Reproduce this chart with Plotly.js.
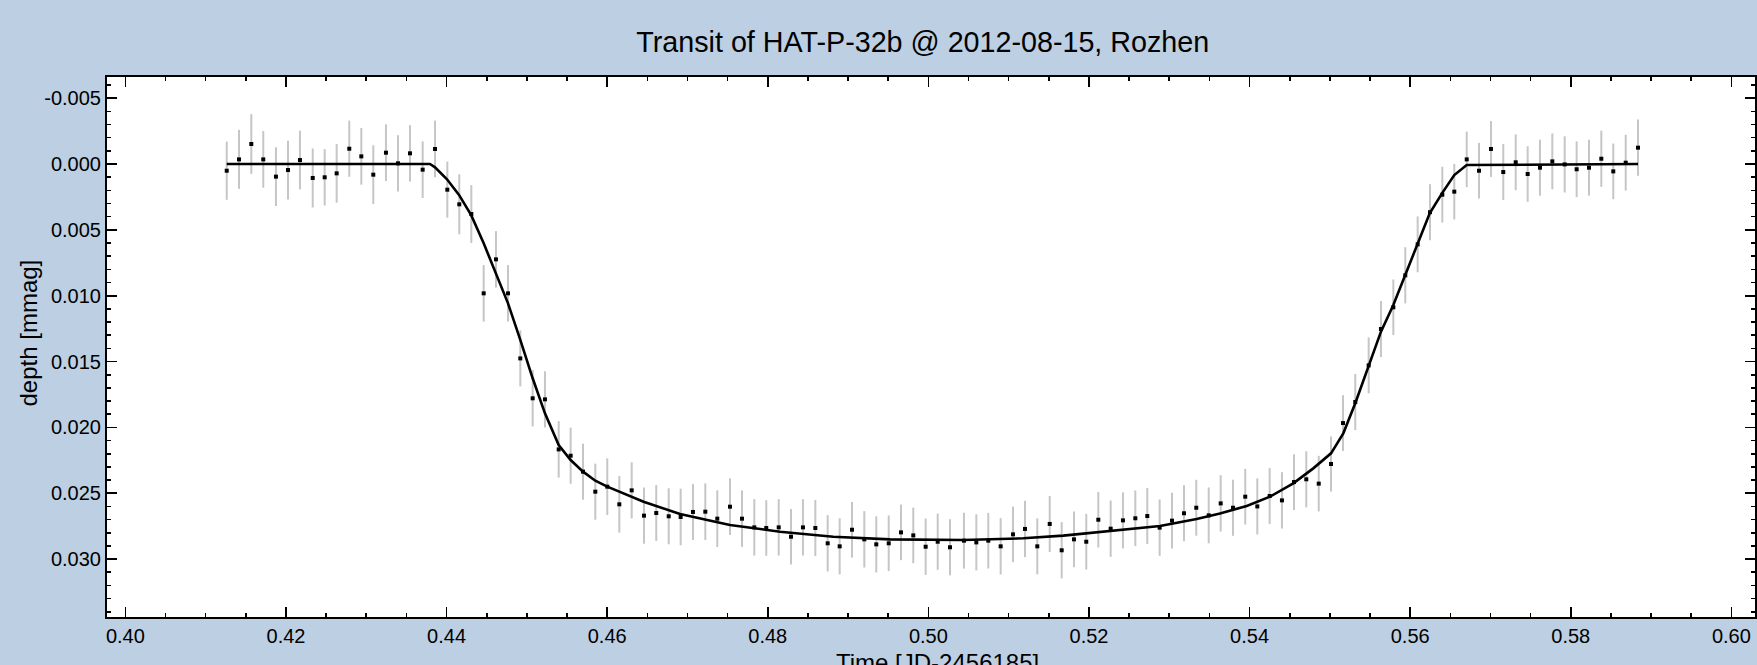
<!DOCTYPE html>
<html>
<head>
<meta charset="utf-8">
<script src="https://cdn.plot.ly/plotly-3.0.1.min.js"></script>
<style>
html,body{margin:0;padding:0;background:#bdcfe2;}
#chart{width:1757px;height:665px;}
</style>
</head>
<body>
<div id="chart"></div>
<script>
// Observation times [JD-2456185]
const time = [
0.41262,0.41415,0.41568,0.41717,0.41875,0.42025,0.42174,0.42333,0.42482,0.42631,
0.42788,0.42938,0.43087,0.43245,0.43395,0.43544,0.43702,0.43856,0.44009,0.44158,
0.44308,0.44462,0.44615,0.44765,0.44918,0.45072,0.45225,0.45396,0.45545,0.45699,
0.45852,0.46001,0.46151,0.46305,0.46458,0.46611,0.46766,0.46915,0.47068,0.47222,
0.47371,0.47529,0.47679,0.47832,0.47981,0.48136,0.48289,0.48438,0.48592,0.48746,
0.48895,0.49049,0.49202,0.49351,0.49506,0.49659,0.49812,0.49966,0.50116,0.50269,
0.50443,0.50597,0.50746,0.50900,0.51054,0.51203,0.51356,0.51511,0.51660,0.51813,
0.51966,0.52116,0.52270,0.52423,0.52577,0.52726,0.52880,0.53034,0.53183,0.53336,
0.53491,0.53640,0.53793,0.53946,0.54096,0.54250,0.54403,0.54553,0.54706,0.54861,
0.55014,0.55163,0.55316,0.55483,0.55636,0.55790,0.55939,0.56093,0.56247,0.56400,
0.56549,0.56704,0.56857,0.57006,0.57159,0.57314,0.57463,0.57616,0.57770,0.57924,
0.58073,0.58227,0.58380,0.58529,0.58684,0.58837
];
// Measured depth [mmag]
const depth = [
0.00051,-0.00035,-0.00152,-0.00035,0.00096,0.00046,-0.00030,0.00106,0.00101,0.00071,
-0.00116,-0.00058,0.00081,-0.00086,-0.00005,-0.00081,0.00043,-0.00114,0.00195,0.00306,
0.00380,0.00982,0.00724,0.00982,0.01476,0.01779,0.01787,0.02167,0.02215,0.02336,
0.02488,0.02450,0.02584,0.02478,0.02670,0.02650,0.02675,0.02680,0.02642,0.02640,
0.02693,0.02602,0.02693,0.02759,0.02764,0.02759,0.02830,0.02759,0.02764,0.02880,
0.02903,0.02777,0.02850,0.02888,0.02880,0.02797,0.02820,0.02906,0.02868,0.02910,
0.02860,0.02873,0.02860,0.02903,0.02812,0.02771,0.02903,0.02733,0.02933,0.02850,
0.02868,0.02701,0.02769,0.02706,0.02690,0.02673,0.02761,0.02708,0.02652,0.02610,
0.02668,0.02577,0.02610,0.02526,0.02600,0.02521,0.02554,0.02415,0.02394,0.02427,
0.02278,0.01967,0.01807,0.01529,0.01253,0.01088,0.00845,0.00610,0.00366,0.00233,
0.00210,-0.00035,0.00051,-0.00114,0.00061,-0.00013,0.00076,0.00028,-0.00020,0.00003,
0.00040,0.00028,-0.00040,0.00056,-0.00010,-0.00124
];
// Error of each measurement
const depthErr = [
0.00221,0.00224,0.00227,0.00215,0.00223,0.00223,0.00223,0.00224,0.00214,0.00223,
0.00213,0.00215,0.00223,0.00215,0.00214,0.00214,0.00215,0.00215,0.00213,0.00228,
0.00220,0.00215,0.00214,0.00214,0.00213,0.00214,0.00213,0.00214,0.00213,0.00213,
0.00213,0.00215,0.00215,0.00213,0.00213,0.00212,0.00213,0.00215,0.00213,0.00215,
0.00215,0.00215,0.00214,0.00214,0.00211,0.00214,0.00211,0.00214,0.00213,0.00214,
0.00213,0.00211,0.00214,0.00213,0.00211,0.00211,0.00211,0.00214,0.00213,0.00213,
0.00212,0.00213,0.00211,0.00214,0.00211,0.00214,0.00212,0.00213,0.00214,0.00211,
0.00212,0.00211,0.00214,0.00213,0.00211,0.00213,0.00214,0.00212,0.00213,0.00212,
0.00212,0.00214,0.00213,0.00211,0.00213,0.00212,0.00214,0.00212,0.00213,0.00211,
0.00209,0.00212,0.00213,0.00212,0.00213,0.00211,0.00213,0.00212,0.00213,0.00212,
0.00211,0.00211,0.00211,0.00212,0.00213,0.00212,0.00211,0.00213,0.00212,0.00213,
0.00212,0.00212,0.00213,0.00211,0.00212,0.00213
];
// Fitted transit model
const modelTime = [
0.41262,0.43793,0.43856,0.44005,0.44155,0.44308,0.44462,0.44615,0.44765,0.44918,
0.45072,0.45225,0.45396,0.45545,0.45699,0.45852,0.46001,0.46453,0.46907,0.47529,
0.48152,0.48816,0.49522,0.50435,0.51182,0.51680,0.52262,0.52884,0.53341,0.53631,
0.53964,0.54254,0.54544,0.54793,0.55014,0.55167,0.55316,0.55483,0.55636,0.55790,
0.55939,0.56093,0.56243,0.56396,0.56549,0.56704,0.58837
];
const modelDepth = [
0,0,0.00025,0.00116,0.00235,0.00390,0.00602,0.00830,0.01058,0.01336,
0.01627,0.01893,0.02134,0.02248,0.02336,0.02405,0.02450,0.02564,0.02658,0.02741,
0.02792,0.02830,0.02850,0.02855,0.02842,0.02822,0.02784,0.02749,0.02695,0.02653,
0.02597,0.02526,0.02425,0.02311,0.02197,0.02045,0.01817,0.01539,0.01273,0.01071,
0.00843,0.00610,0.00375,0.00223,0.00084,0.00008,0
];
// Tick labels
const xTickVals = [0.40,0.42,0.44,0.46,0.48,0.50,0.52,0.54,0.56,0.58,0.60];
const xTickText = ['0.40','0.42','0.44','0.46','0.48','0.50','0.52','0.54','0.56','0.58','0.60'];
const yTickVals = [-0.005,0,0.005,0.010,0.015,0.020,0.025,0.030];
const yTickText = ['-0.005','0.000','0.005','0.010','0.015','0.020','0.025','0.030'];

const titleText = 'Transit of HAT-P-32b @ 2012-08-15, Rozhen';
const xTitle = 'Time [JD-2456185]';
const yTitle = 'depth [mmag]';

const traces = [
  {
    type:'scatter', mode:'markers', x: time, y: depth,
    marker:{color:'rgba(0,0,0,0)', size:4},
    error_y:{type:'data', array: depthErr, visible:true, color:'#c6c6c6', thickness:2, width:0},
    showlegend:false, hoverinfo:'skip'
  },
  {
    type:'scatter', mode:'lines', x: modelTime, y: modelDepth,
    line:{color:'#000000', width:2.6},
    showlegend:false, hoverinfo:'skip'
  },
  {
    type:'scatter', mode:'markers', x: time, y: depth,
    marker:{color:'#000000', size:4, symbol:'square'},
    showlegend:false, hoverinfo:'skip'
  }
];

const axisCommon = {
  ticks:'inside', ticklen:10, tickwidth:1.6, tickcolor:'#000',
  showline:true, linewidth:2, linecolor:'#000', mirror:'allticks',
  showgrid:false, zeroline:false,
  tickfont:{size:20, color:'#000'}
};

const layout = {
  width:1757, height:665,
  paper_bgcolor:'#bdcfe2', plot_bgcolor:'#ffffff',
  margin:{l:107, r:2, t:77, b:48, pad:0},
  font:{family:'"Liberation Sans", Arial, sans-serif', color:'#000', size:20},
  title:{text:titleText, x:0.5252, xref:'container', xanchor:'center',
         y:1-42/665, yref:'container', yanchor:'middle', font:{size:28.7, color:'#000'}},
  xaxis:Object.assign({}, axisCommon, {
    range:[0.39771, 0.60294],
    tickmode:'array', tickvals:xTickVals, ticktext:xTickText,
    minor:{ticks:'inside', ticklen:4, tickwidth:1.6, tickcolor:'#000', tickmode:'linear', tick0:0.4, dtick:0.005, showgrid:false}
  }),
  yaxis:Object.assign({}, axisCommon, {
    range:[0.034396, -0.006606],
    tickmode:'array', tickvals:yTickVals, ticktext:yTickText,
    minor:{ticks:'inside', ticklen:4, tickwidth:1.6, tickcolor:'#000', tickmode:'linear', tick0:0, dtick:0.001, showgrid:false}
  }),
  annotations:[
    {
      text:yTitle, textangle:-90, xref:'paper', yref:'paper',
      x:(28-107)/1648, y:(617-333.5)/540, xanchor:'center', yanchor:'middle',
      showarrow:false, font:{size:24, color:'#000'}
    },
    {
      text:xTitle, xref:'paper', yref:'paper',
      x:(937-107)/1648, y:(617-647)/540, xanchor:'center', yanchor:'top',
      showarrow:false, font:{size:24, color:'#000'}
    }
  ],
  hovermode:false
};

Plotly.newPlot('chart', traces, layout, {displayModeBar:false, staticPlot:true});
</script>
</body>
</html>
